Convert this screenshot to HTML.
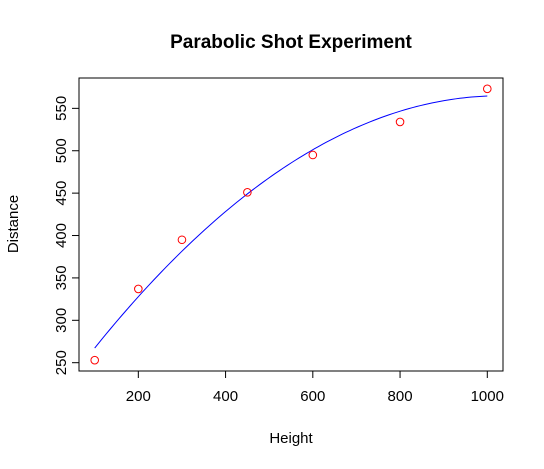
<!DOCTYPE html>
<html><head><meta charset="utf-8"><style>
html,body{margin:0;padding:0;background:#fff;}
svg{display:block;font-family:"Liberation Sans",sans-serif;}
</style></head><body>
<svg id="chart" width="544" height="469" xmlns="http://www.w3.org/2000/svg">
<defs><clipPath id="plotclip"><rect x="79" y="78" width="424" height="293"/></clipPath></defs>
<text x="291" y="48" text-anchor="middle" font-size="19" font-weight="bold">Parabolic Shot Experiment</text>
<rect x="79" y="78" width="424" height="293" fill="none" stroke="#000" stroke-width="1"/>
<g id="xaxis"></g>
<g id="yaxis"></g>
<text x="291" y="443" text-anchor="middle" font-size="15">Height</text>
<text x="0" y="0" transform="translate(18,224) rotate(-90)" text-anchor="middle" font-size="15">Distance</text>
<g id="marks" clip-path="url(#plotclip)"></g>
</svg>
<script>
const heights = [100, 200, 300, 450, 600, 800, 1000];
const distances = [253, 337, 395, 451, 495, 534, 573];
const xTicks = [200, 400, 600, 800, 1000];
const yTicks = [250, 300, 350, 400, 450, 500, 550];
const fitCoef = [199.9, 0.70841, -0.00034377];

const NS = "http://www.w3.org/2000/svg";
const L = 79, R = 503, T = 78, B = 371;
const xmin0 = Math.min(...heights), xmax0 = Math.max(...heights);
const ymin0 = Math.min(...distances), ymax0 = Math.max(...distances);
const xpad = (xmax0 - xmin0) * 0.04, ypad = (ymax0 - ymin0) * 0.04;
const xmin = xmin0 - xpad, xmax = xmax0 + xpad, ymin = ymin0 - ypad, ymax = ymax0 + ypad;
const sx = v => L + (v - xmin) / (xmax - xmin) * (R - L);
const sy = v => B - (v - ymin) / (ymax - ymin) * (B - T);
function mk(tag, attrs, parent) {
  const e = document.createElementNS(NS, tag);
  for (const k in attrs) e.setAttribute(k, attrs[k]);
  parent.appendChild(e);
  return e;
}
const xa = document.getElementById('xaxis'), ya = document.getElementById('yaxis'), marks = document.getElementById('marks');
mk('line', {x1: sx(xTicks[0]), x2: sx(xTicks[xTicks.length-1]), y1: B, y2: B, stroke: '#000'}, xa);
xTicks.forEach(t => {
  const x = sx(t);
  const tk = mk('line', {x1: x, x2: x, y1: B, y2: B + 7, stroke: '#000'}, xa);
  
  
  const lb = mk('text', {x: x, y: B + 30, 'text-anchor': 'middle', 'font-size': 15}, xa);
  lb.textContent = t;
  
  
});
mk('line', {x1: L, x2: L, y1: sy(yTicks[0]), y2: sy(yTicks[yTicks.length-1]), stroke: '#000'}, ya);
yTicks.forEach(t => {
  const y = sy(t);
  const tk = mk('line', {x1: L - 7, x2: L, y1: y, y2: y, stroke: '#000'}, ya);
  
  
  const lb = mk('text', {x: 0, y: 0, transform: `translate(${L - 13},${y}) rotate(-90)`, 'text-anchor': 'middle', 'font-size': 15}, ya);
  lb.textContent = t;
  
  
});
let d = '';
for (let i = 0; i <= 100; i++) {
  const h = xmin0 + (xmax0 - xmin0) * i / 100;
  const v = fitCoef[0] + fitCoef[1] * h + fitCoef[2] * h * h;
  d += (i ? 'L' : 'M') + sx(h).toFixed(2) + ',' + sy(v).toFixed(2);
}
const curve = mk('path', {d: d, fill: 'none', stroke: '#0000ff', 'stroke-width': 1}, marks);


heights.forEach((h, i) => {
  const c = mk('circle', {cx: sx(h), cy: sy(distances[i]), r: 3.8, fill: 'none', stroke: '#ff0000', 'stroke-width': 1}, marks);
  
  
});
</script>
</body></html>
